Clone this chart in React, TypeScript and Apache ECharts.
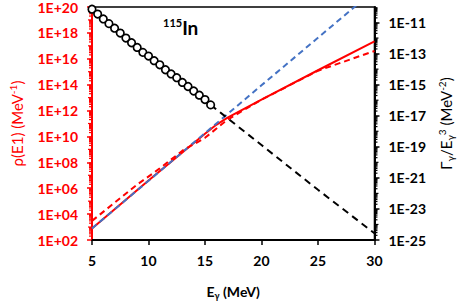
import React, { useEffect, useRef } from "react";
import * as echarts from "echarts";

// Experimental points: gamma strength Gamma/E^3 (MeV^-2), right axis
const energyCircles = [5, 5.5, 6, 6.5, 7, 7.5, 8, 8.5, 9, 9.5, 10, 10.5, 11, 11.5, 12, 12.5, 13, 13.5, 14, 14.5, 15, 15.5];
const gammaCircles = [7.2e-11, 3.5e-11, 1.7e-11, 8.5e-12, 4.3e-12, 2.1e-12, 1.0e-12, 5.0e-13, 2.5e-13, 1.2e-13, 6.9e-14, 3.5e-14, 1.9e-14, 9.1e-15, 4.9e-15, 2.8e-15, 1.4e-15, 7.6e-16, 3.9e-16, 2.1e-16, 1.1e-16, 5.0e-17];
// Black dashed extrapolation (right axis)
const energyGammaFit = [15.5, 20, 25, 30];
const gammaFit = [5.0e-17, 1.3e-19, 1.7e-22, 2.7e-25];
// rho(E1) curves (left axis)
const energyRhoSolid = [5, 10, 15, 16, 17, 20, 25, 30];
const rhoSolid = [7.8e2, 4.0e6, 1.6e10, 7.9e10, 2.8e11, 6.9e12, 1.3e15, 2.2e17];
const energyRhoDashed = [5, 7, 9, 11, 13, 15, 17, 20, 25, 30];
const rhoDashed = [3.0e3, 7.6e4, 1.9e6, 3.4e7, 7.9e8, 7.8e9, 2.0e11, 6.9e12, 1.2e15, 4.0e16];
const energyBlue = [5, 15, 20, 30];
const rhoBlue = [7.8e2, 1.8e10, 8.9e13, 2.0e21];

// Axis ranges (exponents of ten)
const rhoExpMin = 2;
const rhoExpMax = 20;
const gammaExpMin = -25;
const gammaExpMax = -10;

const FONT = "Lato";

function pad2(n: number): string {
  const a = Math.abs(Math.round(n));
  return a < 10 ? "0" + a : String(a);
}

function pairs(xs: number[], ys: number[]): number[][] {
  return xs.map((x, i) => [x, Math.log10(ys[i])]);
}

function minorTicks(lo: number, hi: number, xPos: number): number[][] {
  const out: number[][] = [];
  for (let n = lo; n < hi; n++) {
    for (let k = 1; k <= 9; k++) {
      if (k === 1 && (n - lo) % 2 === 0) continue;
      out.push([xPos, n + Math.log10(k), k === 1 ? 4 : 3]);
    }
  }
  return out;
}

export default function App() {
  const ref = useRef<HTMLDivElement>(null);

  useEffect(() => {
    if (!ref.current) return;
    const chart = echarts.init(ref.current, undefined, { renderer: "svg" });

    const option: any = {
      animation: false,
      backgroundColor: "#ffffff",
      title: {
        text: "{s|115}{b|In}",
        left: 158,
        top: 12,
        textStyle: {
          rich: {
            s: { fontFamily: FONT, fontSize: 11, fontWeight: "bold", color: "#000", verticalAlign: "top", lineHeight: 20 },
            b: { fontFamily: FONT, fontSize: 19, fontWeight: "bold", color: "#000", lineHeight: 20 },
          },
        },
      },
      grid: {
        left: 84,
        right: 85,
        top: 6,
        bottom: 55,
        show: true,
        borderColor: "#000",
        borderWidth: 1.5,
        backgroundColor: "transparent",
      },
      xAxis: {
        type: "value",
        min: 5,
        max: 30,
        interval: 5,
        name: "{t|E}{s|γ}{t| (MeV)}",
        nameLocation: "middle",
        nameGap: 42,
        nameTextStyle: {
          rich: {
            t: { fontFamily: FONT, fontSize: 14, fontWeight: "bold", color: "#000", lineHeight: 18 },
            s: { fontFamily: FONT, fontSize: 9, fontWeight: "bold", color: "#000", verticalAlign: "bottom", lineHeight: 18 },
          },
        },
        axisLine: { show: true, onZero: false, lineStyle: { color: "#000", width: 2 } },
        axisTick: { show: true, inside: false, length: 5, lineStyle: { color: "#000", width: 1.5 } },
        axisLabel: { color: "#000", fontFamily: FONT, fontSize: 14, fontWeight: "bold", margin: 13 },
        splitLine: { show: false },
      },
      yAxis: [
        {
          type: "value",
          position: "left",
          min: rhoExpMin,
          max: rhoExpMax,
          interval: 2,
          name: "{t|ρ(E1) (MeV}{s|-1}{t|)}",
          nameLocation: "middle",
          nameGap: 66,
          nameTextStyle: {
            rich: {
              t: { fontFamily: FONT, fontSize: 15, color: "#ff0000", lineHeight: 18 },
              s: { fontFamily: FONT, fontSize: 10, color: "#ff0000", verticalAlign: "top", lineHeight: 18 },
            },
          },
          axisLine: { show: true, onZero: false, lineStyle: { color: "#ff0000", width: 2 } },
          axisTick: { show: true, inside: false, length: 5, lineStyle: { color: "#ff0000", width: 1.5 } },
          axisLabel: {
            color: "#ff0000",
            fontFamily: FONT,
            fontSize: 14,
            fontWeight: "bold",
            margin: 14,
            formatter: (v: number) => "1E+" + pad2(v),
          },
          splitLine: { show: false },
        },
        {
          type: "value",
          position: "right",
          min: gammaExpMin,
          max: gammaExpMax,
          interval: 2,
          name: "{t|Γ}{s|γ}{t|/E}{s|γ}{p|3}{t| (MeV}{p|-2}{t|)}",
          nameLocation: "middle",
          nameGap: 62,
          nameTextStyle: {
            rich: {
              t: { fontFamily: FONT, fontSize: 15, color: "#000", lineHeight: 18 },
              s: { fontFamily: FONT, fontSize: 10, color: "#000", verticalAlign: "bottom", lineHeight: 18 },
              p: { fontFamily: FONT, fontSize: 10, color: "#000", verticalAlign: "top", lineHeight: 18 },
            },
          },
          axisLine: { show: true, onZero: false, lineStyle: { color: "#000", width: 2 } },
          axisTick: { show: true, inside: false, length: 5, lineStyle: { color: "#000", width: 1.5 } },
          axisLabel: {
            color: "#000",
            fontFamily: FONT,
            fontSize: 14,
            fontWeight: "bold",
            margin: 14,
            showMaxLabel: false,
            formatter: (v: number) => (Math.round(v) % 2 !== 0 ? "1E-" + pad2(v) : ""),
          },
          splitLine: { show: false },
        },
      ],
      series: [
        {
          type: "custom",
          silent: true,
          clip: false,
          yAxisIndex: 0,
          encode: { x: 0, y: 1 },
          data: minorTicks(rhoExpMin, rhoExpMax, 5),
          renderItem: (params: any, api: any) => {
            const p = api.coord([api.value(0), api.value(1)]);
            const len = api.value(2);
            return {
              type: "line",
              shape: { x1: p[0] - len, y1: p[1], x2: p[0], y2: p[1] },
              style: { stroke: "#ff0000", lineWidth: 1.2 },
            };
          },
          z: 1,
        },
        {
          type: "custom",
          silent: true,
          clip: false,
          yAxisIndex: 1,
          encode: { x: 0, y: 1 },
          data: minorTicks(gammaExpMin, gammaExpMax, 30),
          renderItem: (params: any, api: any) => {
            const p = api.coord([api.value(0), api.value(1)]);
            const len = api.value(2);
            return {
              type: "line",
              shape: { x1: p[0], y1: p[1], x2: p[0] + len, y2: p[1] },
              style: { stroke: "#000", lineWidth: 1.2 },
            };
          },
          z: 1,
        },
        {
          name: "rho solid",
          type: "line",
          yAxisIndex: 0,
          data: pairs(energyRhoSolid, rhoSolid),
          showSymbol: false,
          symbol: "none",
          lineStyle: { color: "#ff0000", width: 2 },
          z: 3,
        },
        {
          name: "rho blue",
          type: "line",
          yAxisIndex: 0,
          data: pairs(energyBlue, rhoBlue),
          showSymbol: false,
          symbol: "none",
          lineStyle: { color: "#4472c4", width: 2, type: [6, 4] },
          z: 4,
        },
        {
          name: "rho dashed",
          type: "line",
          yAxisIndex: 0,
          data: pairs(energyRhoDashed, rhoDashed),
          showSymbol: false,
          symbol: "none",
          lineStyle: { color: "#ff0000", width: 2, type: [6, 4] },
          z: 5,
        },
        {
          name: "gamma fit",
          type: "line",
          yAxisIndex: 1,
          data: pairs(energyGammaFit, gammaFit),
          showSymbol: false,
          symbol: "none",
          lineStyle: { color: "#000", width: 2, type: [7, 5] },
          z: 5,
        },
        {
          name: "gamma data",
          type: "scatter",
          yAxisIndex: 1,
          data: pairs(energyCircles, gammaCircles),
          symbol: "circle",
          symbolSize: 7.5,
          itemStyle: { color: "#ffffff", borderColor: "#000", borderWidth: 1.7, opacity: 1 },
          z: 6,
        },
      ],
    };

    chart.setOption(option);
    return () => chart.dispose();
  }, []);

  return (
    <div
      ref={ref}
      style={{ position: "absolute", left: 0, top: 0, width: 463, height: 305 }}
    />
  );
}
